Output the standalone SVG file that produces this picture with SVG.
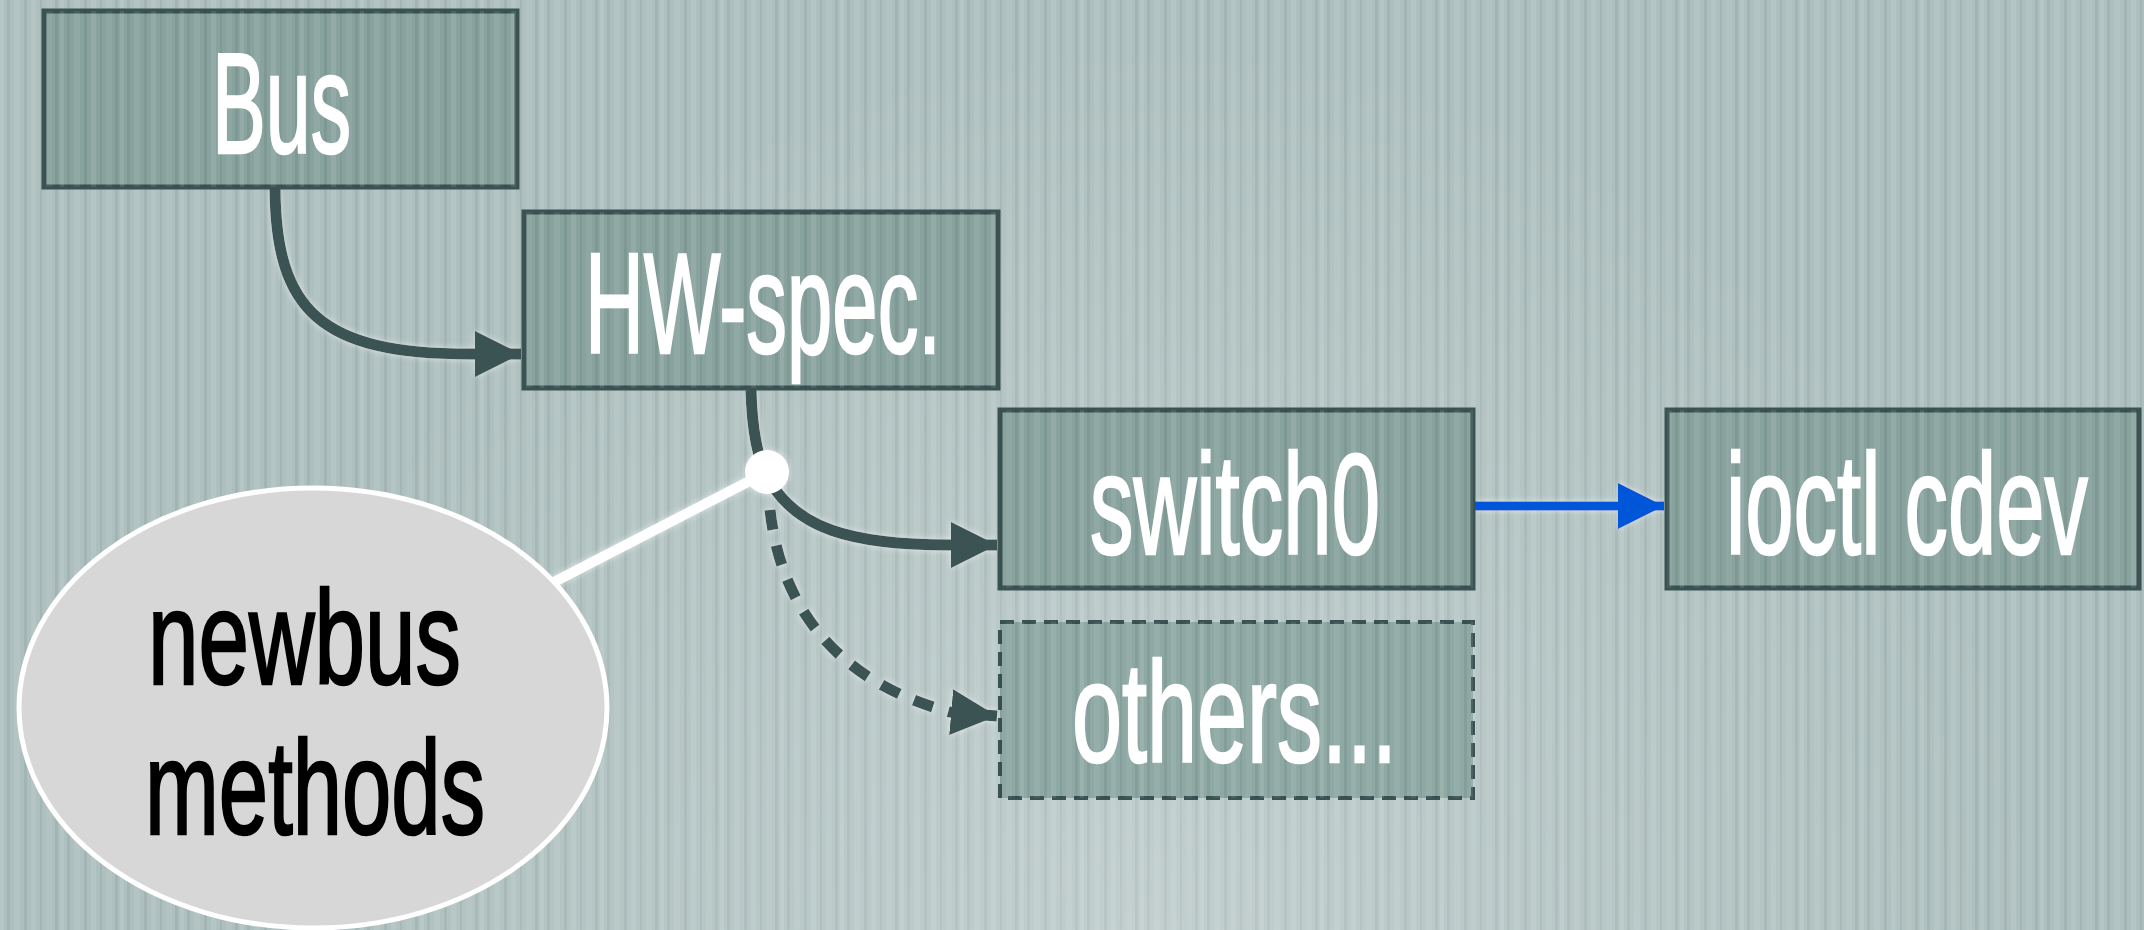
<svg xmlns="http://www.w3.org/2000/svg" width="2144" height="930" viewBox="0 0 2144 930">
<defs>
<style>
.box{fill:#88a29d;stroke:#3a5252;stroke-width:5}
.lbl{font-family:"Liberation Sans Narrow","Liberation Sans",Arial,sans-serif;font-size:142px;fill:#ffffff;stroke:#ffffff;stroke-width:2.5}
.blbl{font-family:"Liberation Sans Narrow","Liberation Sans",Arial,sans-serif;font-size:134px;fill:#000000;stroke:#000000;stroke-width:2.5}
.conn{fill:none;stroke:#3a5252;stroke-width:11}
</style>
<pattern id="stripes" x="0" y="0" width="60" height="930" patternUnits="userSpaceOnUse">
<rect x="0" y="0" width="4" height="930" fill="#ffffff" opacity="0.10"/>
<rect x="7" y="0" width="3" height="930" fill="#000000" opacity="0.05"/>
<rect x="14" y="0" width="6" height="930" fill="#ffffff" opacity="0.07"/>
<rect x="24" y="0" width="3" height="930" fill="#000000" opacity="0.06"/>
<rect x="31" y="0" width="5" height="930" fill="#ffffff" opacity="0.09"/>
<rect x="40" y="0" width="2" height="930" fill="#000000" opacity="0.05"/>
<rect x="46" y="0" width="6" height="930" fill="#ffffff" opacity="0.06"/>
<rect x="55" y="0" width="3" height="930" fill="#000000" opacity="0.06"/>
</pattern>
<radialGradient id="glow" cx="1150" cy="930" r="900" gradientUnits="userSpaceOnUse">
<stop offset="0" stop-color="#ffffff" stop-opacity="0.25"/>
<stop offset="1" stop-color="#ffffff" stop-opacity="0"/>
</radialGradient>
<filter id="halo" x="-20%" y="-20%" width="140%" height="140%">
<feGaussianBlur in="SourceAlpha" stdDeviation="3" result="b"/>
<feFlood flood-color="#ffffff" flood-opacity="0.6"/>
<feComposite in2="b" operator="in" result="h"/>
<feMerge><feMergeNode in="h"/><feMergeNode in="SourceGraphic"/></feMerge>
</filter>
<marker id="arr" markerUnits="userSpaceOnUse" markerWidth="48" markerHeight="46" refX="46" refY="23" orient="auto">
<path d="M0,0 L46,23 L0,46 Z" fill="#3a5252"/>
</marker>
<marker id="arrBlue" markerUnits="userSpaceOnUse" markerWidth="48" markerHeight="46" refX="46" refY="23" orient="auto">
<path d="M0,0 L46,23 L0,46 Z" fill="#0057d8"/>
</marker>
</defs>

<rect width="2144" height="930" fill="#adbfbe"/>
<rect width="2144" height="930" fill="url(#stripes)"/>
<rect width="2144" height="930" fill="url(#glow)"/>

<g id="connectors" filter="url(#halo)">
<path class="conn" d="M275,189 C276,310 320,354 470,354 L521,354" marker-end="url(#arr)"/>
<path class="conn" d="M751,390 C752,430 758,460 768,478 C795,528 850,545 950,545 L997,545" marker-end="url(#arr)"/>
<path class="conn" d="M770,510 C780,600 830,680 950,712 L997,716" stroke-dasharray="20 16" marker-end="url(#arr)"/>
<path d="M1475,506 L1664,506" fill="none" stroke="#0057d8" stroke-width="9" marker-end="url(#arrBlue)"/>
<path d="M554,582 L767,472" fill="none" stroke="#ffffff" stroke-width="10"/>
<circle cx="767" cy="472" r="22" fill="#ffffff"/>
</g>

<g id="bus">
<rect class="box" x="44" y="11" width="473" height="176"/>
<rect x="44" y="11" width="473" height="176" fill="url(#stripes)"/>
<text class="lbl" x="212" y="153" textLength="139" lengthAdjust="spacingAndGlyphs">Bus</text>
</g>

<g id="hwspec">
<rect class="box" x="524" y="212" width="474" height="176"/>
<rect x="524" y="212" width="474" height="176" fill="url(#stripes)"/>
<text class="lbl" x="585" y="353" textLength="356" lengthAdjust="spacingAndGlyphs">HW-spec.</text>
</g>

<g id="switch0">
<rect class="box" x="1000" y="410" width="473" height="178"/>
<rect x="1000" y="410" width="473" height="178" fill="url(#stripes)"/>
<text class="lbl" x="1090" y="554" textLength="290" lengthAdjust="spacingAndGlyphs">switch0</text>
</g>

<g id="ioctl">
<rect class="box" x="1667" y="410" width="472" height="178"/>
<rect x="1667" y="410" width="472" height="178" fill="url(#stripes)"/>
<text class="lbl" x="1726" y="554" textLength="362" lengthAdjust="spacingAndGlyphs">ioctl cdev</text>
</g>

<g id="others">
<rect class="box" x="1000" y="622" width="473" height="176" style="stroke-width:4;fill:#8ea8a3;stroke-dasharray:14 8"/>
<rect x="1000" y="622" width="473" height="176" fill="url(#stripes)"/>
<text class="lbl" x="1072" y="762" textLength="325" lengthAdjust="spacingAndGlyphs">others...</text>
</g>

<g id="newbus">
<ellipse cx="313" cy="708" rx="294" ry="220" fill="#d7d7d7" stroke="#ffffff" stroke-width="5"/>
<text class="blbl" x="148" y="684" textLength="313" lengthAdjust="spacingAndGlyphs">newbus</text>
<text class="blbl" x="145" y="834" textLength="340" lengthAdjust="spacingAndGlyphs">methods</text>
</g>
</svg>
